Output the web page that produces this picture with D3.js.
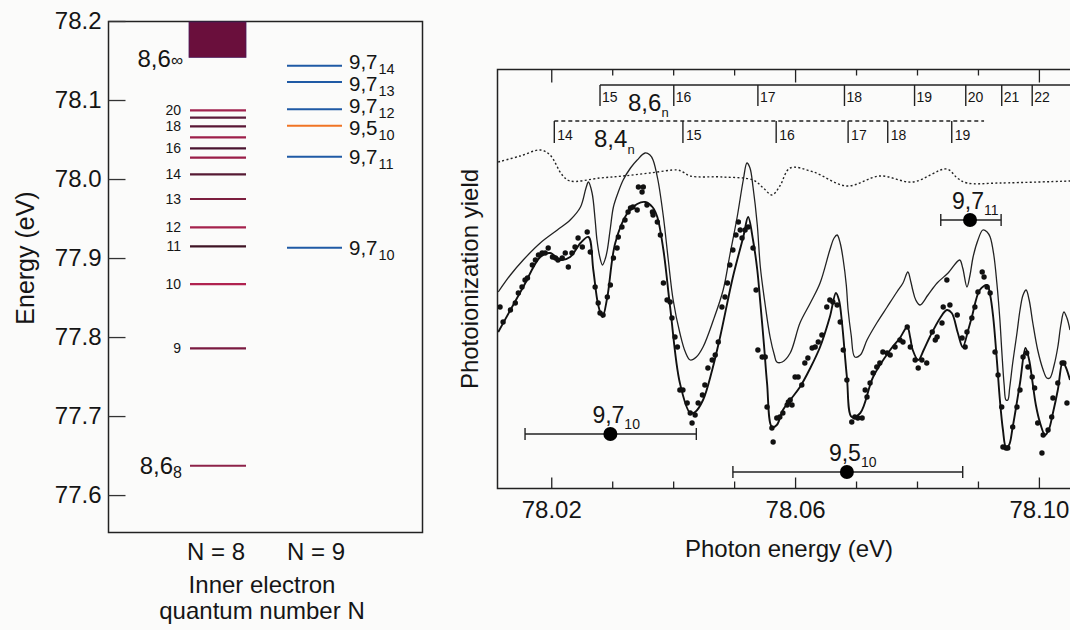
<!DOCTYPE html>
<html><head><meta charset="utf-8">
<script src="https://cdn.jsdelivr.net/npm/d3@7"></script>
<style>
body{margin:0;background:#fbfbfa;}
svg{display:block;font-family:"Liberation Sans",Arial,Helvetica,sans-serif;}
</style></head><body>
<svg id="chart" width="1070" height="630"></svg>
<script>
// ---------------- LEFT PANEL DATA (energy levels, eV) ----------------
const leftTicks = [77.6, 77.7, 77.8, 77.9, 78.0, 78.1, 78.2];
const n8Numbers = [8, 9, 10, 11, 12, 13, 14, 15, 16, 17, 18, 19, 20];
const n8Energies = [77.6371, 77.7857, 77.8671, 77.9148, 77.9389, 77.9747, 78.0059, 78.0270, 78.0389, 78.0528, 78.0667, 78.0776, 78.0870];
const n8LabelShown = [9, 10, 11, 12, 13, 14, 16, 18, 20];
const n8Limit = [78.154, 78.2];           // 8,6_inf series limit band
const n9Names = ["9,7", "9,7", "9,7", "9,5", "9,7", "9,7"];
const n9Subs = ["14", "13", "12", "10", "11", "10"];
const n9Energies = [78.1434, 78.1228, 78.0882, 78.0675, 78.0282, 77.9130];

// ---------------- RIGHT PANEL DATA ----------------
const majorTicks = [78.02, 78.06, 78.10];
const minorTicks = [78.03, 78.04, 78.05, 78.07, 78.08, 78.09];

const series86N = [15, 16, 17, 18, 19, 20, 21, 22];
const series86E = [78.0280, 78.0401, 78.0539, 78.0681, 78.0796, 78.0880, 78.0939, 78.0989];
const series84N = [14, 15, 16, 17, 18, 19];
const series84E = [78.0205, 78.0416, 78.0569, 78.0687, 78.0752, 78.0857];
const series84End = 78.0910;

// dotted curve
const dottedE = [78.0113,78.0149,78.0182,78.0198,78.0218,78.0231,78.0280,78.0318,78.0362,78.0407,78.0416,78.0428,78.0482,78.0531,78.0548,78.0562,78.0575,78.0592,78.0630,78.0685,78.0739,78.0793,78.0849,78.0866,78.0882,78.0936,78.1051];
const dottedY = [32.6,33.2,33.8,33.3,31.3,30.7,31.0,31.2,31.5,31.8,31.6,31.2,31.1,30.8,30.0,29.3,30.2,32.0,31.6,30.2,31.2,30.6,31.9,31.0,30.5,30.5,30.7];

// upper thin theory curve
const upperE = [78.0113,78.0133,78.0154,78.0182,78.0210,78.0231,78.0248,78.0257,78.0261,78.0267,
78.0272,78.0275,78.0280,78.0284,78.0289,78.0292,78.0297,78.0302,78.0310,78.0318,
78.0330,78.0341,78.0354,78.0362,78.0367,78.0375,78.0384,78.0392,78.0400,78.0411,
78.0420,78.0428,78.0438,78.0449,78.0466,78.0482,78.0493,78.0505,78.0515,78.0521,
78.0526,78.0531,78.0538,78.0543,78.0551,78.0559,78.0566,78.0570,78.0579,78.0592,
78.0608,78.0625,78.0641,78.0657,78.0664,78.0669,78.0674,78.0679,78.0684,78.0687,
78.0692,78.0698,78.0707,78.0718,78.0734,78.0751,78.0767,78.0777,78.0785,78.0790,
78.0793,78.0798,78.0805,78.0818,78.0833,78.0851,78.0870,78.0875,78.0882,78.0887,
78.0892,78.0900,78.0908,78.0915,78.0920,78.0926,78.0931,78.0936,78.0939,78.0943,
78.0946,78.0949,78.0952,78.0957,78.0964,78.0969,78.0974,78.0979,78.0984,78.0990,
78.0998,78.1007,78.1013,78.1018,78.1025,78.1031,78.1036,78.1041,78.1046,78.1051];
const upperY = [19.6,21.3,22.8,24.5,25.8,26.8,28.1,30.0,30.6,29.5,
26.8,24.8,23.0,22.3,23.0,23.8,26.0,28.1,29.6,30.8,
32.0,32.8,33.5,33.3,32.8,30.8,27.1,22.8,18.8,15.5,
13.6,12.8,13.1,14.1,16.8,19.8,23.3,27.1,30.8,32.5,
32.0,30.1,26.3,22.1,18.3,15.1,13.3,12.6,12.6,13.5,
16.5,18.5,20.5,23.8,25.0,25.3,24.5,22.8,20.3,17.8,
15.3,13.1,13.3,14.8,16.5,18.1,19.6,20.5,21.6,20.6,
19.8,18.8,18.3,19.3,20.5,21.5,22.8,22.0,20.1,21.3,
23.1,24.8,25.8,25.6,25.1,23.3,20.5,16.8,13.8,10.3,
8.8,8.8,10.0,12.5,15.5,17.8,19.3,19.8,18.8,16.5,
13.8,11.8,11.0,11.0,12.3,14.1,16.3,17.6,17.0,15.8];

// lower fit curve
const fitE = [78.0113,78.0133,78.0154,78.0182,78.0198,78.0215,78.0231,78.0248,78.0261,78.0269,
78.0277,78.0284,78.0292,78.0305,78.0325,78.0341,78.0354,78.0366,78.0374,78.0384,
78.0395,78.0411,78.0428,78.0436,78.0449,78.0464,78.0477,78.0498,78.0515,78.0523,
78.0531,78.0538,78.0543,78.0549,78.0554,78.0562,78.0570,78.0580,78.0592,78.0608,
78.0625,78.0641,78.0657,78.0667,78.0672,78.0677,78.0685,78.0693,78.0707,78.0728,
78.0756,78.0772,78.0784,78.0789,78.0793,78.0802,78.0811,78.0821,78.0838,78.0849,
78.0857,78.0867,78.0875,78.0884,78.0890,78.0903,78.0915,78.0920,78.0925,78.0931,
78.0936,78.0941,78.0946,78.0951,78.0957,78.0969,78.0978,78.0984,78.0989,78.0995,
78.1002,78.1010,78.1016,78.1023,78.1031,78.1039,78.1044,78.1051];
const fitY = [15.6,17.8,20.1,23.1,23.5,22.8,23.1,24.5,25.1,21.8,
18.3,17.1,19.1,24.5,27.5,28.4,28.6,28.1,27.1,23.8,
18.1,10.5,7.5,7.6,8.8,11.8,15.1,21.1,25.1,27.1,
24.8,21.8,18.5,14.3,10.5,6.1,6.3,7.8,8.8,10.1,
12.0,14.1,17.1,19.5,18.8,16.5,11.1,7.1,7.5,11.1,
13.8,15.0,16.1,15.0,13.8,12.8,13.8,15.1,17.0,17.8,
17.5,15.5,14.1,15.8,17.1,19.8,20.3,19.3,17.1,12.8,
8.8,5.8,4.1,4.3,6.1,10.5,14.0,12.8,10.8,8.3,
6.5,5.3,5.8,7.5,9.8,12.6,12.1,10.8];

// measured points
const dotE = [78.0116,78.0121,78.0133,78.0141,78.0146,78.0152,78.0157,78.0161,78.0169,78.0174,
78.0179,78.0185,78.0190,78.0195,78.0202,78.0207,78.0211,78.0218,78.0223,78.0228,
78.0234,78.0239,78.0244,78.0251,78.0259,78.0264,78.0272,78.0277,78.0280,78.0285,
78.0292,78.0297,78.0302,78.0308,78.0310,78.0316,78.0321,78.0326,78.0330,78.0334,
78.0341,78.0343,78.0349,78.0351,78.0357,78.0366,78.0367,78.0374,78.0379,78.0384,
78.0390,78.0395,78.0398,78.0403,78.0407,78.0411,78.0416,78.0423,78.0428,78.0431,
78.0436,78.0441,78.0448,78.0452,78.0457,78.0464,78.0469,78.0474,78.0480,78.0485,
78.0489,78.0493,78.0498,78.0503,78.0507,78.0510,78.0513,78.0518,78.0523,78.0531,
78.0536,78.0539,78.0546,78.0551,78.0554,78.0562,78.0564,78.0570,78.0575,78.0580,
78.0587,78.0592,
78.0589,78.0595,78.0600,78.0605,78.0611,78.0616,78.0621,78.0628,78.0633,78.0638,
78.0644,78.0652,78.0657,78.0662,78.0669,78.0674,78.0679,78.0685,78.0693,78.0698,
78.0703,78.0710,78.0715,78.0718,78.0723,78.0728,78.0734,78.0739,78.0744,78.0751,
78.0756,78.0764,78.0772,78.0777,78.0784,78.0789,78.0797,78.0802,78.0808,78.0816,
78.0825,78.0830,78.0833,78.0841,78.0843,78.0849,78.0854,78.0866,78.0874,78.0879,
78.0882,78.0890,78.0895,78.0900,78.0907,78.0910,78.0915,78.0920,78.0928,78.0933,
78.0939,78.0941,78.0946,78.0949,78.0957,78.0964,78.0969,78.0974,78.0980,78.0982,
78.0989,78.0993,78.0998,78.1005,78.1007,78.1015,78.1021,78.1023,78.1031,78.1038,
78.1041,78.1046];
const dotY = [18.1,16.6,17.8,18.5,19.5,20.1,20.8,21.0,22.3,22.8,
23.3,23.5,23.5,24.0,23.1,23.0,22.8,23.0,23.5,22.1,
23.5,24.1,25.0,24.1,25.6,23.6,20.1,18.5,17.5,17.3,
19.1,20.3,23.0,24.0,25.1,26.1,26.8,27.6,28.0,28.1,
27.8,30.1,29.6,30.1,28.3,27.6,27.3,26.6,25.3,20.5,
18.8,18.6,17.0,15.1,14.1,9.8,9.8,8.5,7.5,6.5,
7.3,8.5,9.3,10.3,12.0,12.8,13.3,14.6,18.1,19.1,
20.5,22.3,23.8,25.3,26.6,25.8,25.0,25.8,26.1,24.0,
19.8,13.8,13.1,13.1,8.1,6.0,4.6,7.0,7.1,7.5,
8.3,8.8,
8.6,8.3,11.1,11.1,10.3,12.5,13.0,14.0,14.1,14.6,
15.3,18.1,18.8,18.6,18.3,16.6,13.8,10.8,6.6,7.1,
7.0,7.0,9.8,9.1,10.5,11.5,12.1,12.5,13.6,13.5,
13.3,14.1,14.8,14.6,16.1,14.1,12.8,12.0,12.8,12.5,
15.6,14.8,15.1,16.5,18.1,20.8,18.3,17.3,15.0,14.1,
15.6,17.0,18.1,19.6,21.6,21.1,20.1,19.5,13.6,11.3,
8.1,4.1,4.0,4.0,6.1,8.1,9.8,13.1,13.5,12.1,
11.1,10.0,6.5,3.5,5.3,5.8,7.1,9.0,10.5,12.5,
12.5,8.5];

// resonance positions with widths
const errNames = ["9,7", "9,5", "9,7"];
const errSubs = ["10", "10", "11"];
const errCenter = [78.0297, 78.0685, 78.0887];
const errLow = [78.0157, 78.0498, 78.0839];
const errHigh = [78.0438, 78.0875, 78.0938];
const errYield = [5.4, 1.6, 26.8];

// ---------------- STYLES ----------------
const n8Colors = ["#8d2249","#7a1a40","#b0224f","#3f1424","#a5224d","#7c1e3e","#561a33","#9a1d47","#4b1530","#9e1f4a","#5a1635","#5c1a3a","#a2234f"];
const n9Colors = ["#1f5aa5","#1f5aa5","#1f5aa5","#f07424","#1f5aa5","#1f5aa5"];
const n9LabelNudge = [-3.5, 2.5, -3.5, 2.5, 0, 0];
const ink = "#151515";

const svg = d3.select("#chart");

// ================= LEFT PANEL =================
const yL = d3.scaleLinear().domain([77.552, 78.2]).range([533, 21]);
const gL = svg.append("g");

gL.append("rect").attr("x", 108.5).attr("y", 21.5).attr("width", 314).attr("height", 511)
  .attr("fill", "none").attr("stroke", "#222").attr("stroke-width", 1.5);

const axL = gL.append("g").attr("transform", "translate(108.5,0)")
  .call(d3.axisLeft(yL).tickValues(leftTicks).tickSizeInner(-17).tickSizeOuter(0).tickPadding(7).tickFormat(d3.format(".1f")));
axL.select(".domain").remove();
axL.selectAll(".tick line").attr("stroke", "#333").attr("stroke-width", 1.3);
axL.selectAll(".tick text").attr("font-size", 24).attr("fill", ink).style("font-family", "Liberation Sans, Arial, sans-serif");

// series limit band
gL.append("rect").attr("x", 189).attr("y", yL(n8Limit[1]) + 1).attr("width", 57)
  .attr("height", yL(n8Limit[0]) - yL(n8Limit[1]) - 1)
  .attr("fill", "#6a0f3c").attr("stroke", "#4a1a5a").attr("stroke-width", 0.8);

// N=8 levels
gL.selectAll("line.n8").data(n8Energies).join("line").attr("class", "n8")
  .attr("x1", 190).attr("x2", 246).attr("y1", d => yL(d)).attr("y2", d => yL(d))
  .attr("stroke", (d, i) => n8Colors[i]).attr("stroke-width", 2.2);

gL.selectAll("text.n8").data(n8Numbers.filter(n => n8LabelShown.includes(n))).join("text").attr("class", "n8")
  .attr("x", 181).attr("y", n => yL(n8Energies[n8Numbers.indexOf(n)])).attr("dy", "0.36em")
  .attr("text-anchor", "end").attr("font-size", 14).attr("fill", ink).text(n => n);

// 8,6_8 label
const t88 = gL.append("text").attr("x", 182).attr("y", yL(n8Energies[0]) + 8).attr("text-anchor", "end").attr("fill", ink);
t88.append("tspan").attr("font-size", 24).text("8,6");
t88.append("tspan").attr("font-size", 16).attr("dy", 4).text(n8Numbers[0]);

// 8,6_inf label
const t8i = gL.append("text").attr("x", 183).attr("y", yL(n8Limit[0]) + 10).attr("text-anchor", "end").attr("fill", ink);
t8i.append("tspan").attr("font-size", 24).text("8,6");
t8i.append("tspan").attr("font-size", 17).attr("dy", -1).text("\u221E");

// N=9 levels
gL.selectAll("line.n9").data(n9Energies).join("line").attr("class", "n9")
  .attr("x1", 287).attr("x2", 342).attr("y1", d => yL(d)).attr("y2", d => yL(d))
  .attr("stroke", (d, i) => n9Colors[i]).attr("stroke-width", 2);

n9Energies.forEach((e, i) => {
  const base = yL(e) + 7 + n9LabelNudge[i];
  const main = gL.append("text").attr("x", 349).attr("y", base).attr("font-size", 20.5).attr("fill", ink).text(n9Names[i]);
  const w = main.node().getComputedTextLength();
  gL.append("text").attr("x", 349 + w + 1).attr("y", base + 5).attr("font-size", 14.5).attr("fill", ink).text(n9Subs[i]);
});

gL.append("text").attr("x", 216).attr("y", 560).attr("text-anchor", "middle").attr("font-size", 24).attr("fill", ink).text("N = 8");
gL.append("text").attr("x", 316).attr("y", 560).attr("text-anchor", "middle").attr("font-size", 24).attr("fill", ink).text("N = 9");
gL.append("text").attr("x", 262).attr("y", 593).attr("text-anchor", "middle").attr("font-size", 24).attr("fill", ink).text("Inner electron");
gL.append("text").attr("x", 262).attr("y", 619).attr("text-anchor", "middle").attr("font-size", 24).attr("fill", ink).text("quantum number N");
gL.append("text").attr("transform", "translate(34,258) rotate(-90)").attr("text-anchor", "middle")
  .attr("font-size", 25).attr("fill", ink).text("Energy (eV)");

// ================= RIGHT PANEL =================
const xR = d3.scaleLinear().domain([78.0111, 78.1051]).range([497, 1070]);
const yR = d3.scaleLinear().domain([0, 41.9]).range([488, 69]);
const gR = svg.append("g");

gR.append("path").attr("d", "M1080,69.5 H497.5 V488.5 H1080")
  .attr("fill", "none").attr("stroke", "#222").attr("stroke-width", 1.5);

function styleAxis(sel) {
  sel.select(".domain").remove();
  sel.selectAll(".tick line").attr("stroke", "#222").attr("stroke-width", 1.3);
  sel.selectAll(".tick text").attr("font-size", 24).attr("fill", ink).style("font-family", "Liberation Sans, Arial, sans-serif");
}
gR.append("g").attr("transform", "translate(0,488.5)")
  .call(d3.axisBottom(xR).tickValues(majorTicks).tickSizeInner(-11).tickSizeOuter(0).tickPadding(12).tickFormat(d3.format(".2f"))).call(styleAxis);
gR.append("g").attr("transform", "translate(0,488.5)")
  .call(d3.axisBottom(xR).tickValues(minorTicks).tickSizeInner(-7).tickSizeOuter(0).tickFormat("")).call(styleAxis);
gR.append("g").attr("transform", "translate(0,69.5)")
  .call(d3.axisTop(xR).tickValues(majorTicks).tickSizeInner(-13).tickSizeOuter(0).tickFormat("")).call(styleAxis);
gR.append("g").attr("transform", "translate(0,69.5)")
  .call(d3.axisTop(xR).tickValues(minorTicks).tickSizeInner(-6).tickSizeOuter(0).tickFormat("")).call(styleAxis);

// series markers 8,6_n
gR.append("line").attr("x1", xR(series86E[0])).attr("x2", 1080).attr("y1", 85).attr("y2", 85)
  .attr("stroke", "#222").attr("stroke-width", 1.3);
gR.selectAll("line.s86").data(series86E).join("line").attr("class", "s86")
  .attr("x1", d => xR(d)).attr("x2", d => xR(d)).attr("y1", 85).attr("y2", 106)
  .attr("stroke", "#222").attr("stroke-width", 1.4);
gR.selectAll("text.s86").data(series86E).join("text").attr("class", "s86")
  .attr("x", d => xR(d) + 2).attr("y", 102).attr("font-size", 14).attr("fill", ink)
  .text((d, i) => series86N[i]);
const l86 = gR.append("text").attr("x", 628).attr("y", 111).attr("fill", ink);
l86.append("tspan").attr("font-size", 24).text("8,6");
l86.append("tspan").attr("font-size", 13).attr("dy", 6).text("n");

// series markers 8,4_n
gR.append("line").attr("x1", xR(series84E[0])).attr("x2", xR(series84End)).attr("y1", 121).attr("y2", 121)
  .attr("stroke", "#222").attr("stroke-width", 1.3).attr("stroke-dasharray", "4,3");
gR.selectAll("line.s84").data(series84E).join("line").attr("class", "s84")
  .attr("x1", d => xR(d)).attr("x2", d => xR(d)).attr("y1", 121).attr("y2", 143)
  .attr("stroke", "#222").attr("stroke-width", 1.4);
gR.selectAll("text.s84").data(series84E).join("text").attr("class", "s84")
  .attr("x", d => xR(d) + 3).attr("y", 140).attr("font-size", 14).attr("fill", ink)
  .text((d, i) => series84N[i]);
const l84 = gR.append("text").attr("x", 594).attr("y", 147).attr("fill", ink);
l84.append("tspan").attr("font-size", 24).text("8,4");
l84.append("tspan").attr("font-size", 13).attr("dy", 7).text("n");

// curves
svg.append("clipPath").attr("id", "plotclip").append("rect")
  .attr("x", 498).attr("y", 70).attr("width", 600).attr("height", 418);
const line = d3.line().curve(d3.curveCatmullRom.alpha(0.5)).x(d => xR(d[0])).y(d => yR(d[1]));
const plot = gR.append("g").attr("clip-path", "url(#plotclip)");

plot.append("path").datum(d3.zip(dottedE, dottedY)).attr("d", line)
  .attr("fill", "none").attr("stroke", "#222").attr("stroke-width", 1.4).attr("stroke-dasharray", "2,2.3");
plot.append("path").datum(d3.zip(upperE, upperY)).attr("d", line)
  .attr("fill", "none").attr("stroke", "#222").attr("stroke-width", 1.3);
plot.append("path").datum(d3.zip(fitE, fitY)).attr("d", line)
  .attr("fill", "none").attr("stroke", "#111").attr("stroke-width", 1.9);
plot.selectAll("circle.pt").data(d3.zip(dotE, dotY)).join("circle").attr("class", "pt")
  .attr("cx", d => xR(d[0])).attr("cy", d => yR(d[1])).attr("r", 2.7).attr("fill", "#111");

// resonance widths
errCenter.forEach((c, i) => {
  const y = yR(errYield[i]);
  const g = gR.append("g");
  g.append("line").attr("x1", xR(errLow[i])).attr("x2", xR(errHigh[i])).attr("y1", y).attr("y2", y)
    .attr("stroke", "#222").attr("stroke-width", 1.3);
  [errLow[i], errHigh[i]].forEach(e => {
    g.append("line").attr("x1", xR(e)).attr("x2", xR(e)).attr("y1", y - 6).attr("y2", y + 6)
      .attr("stroke", "#222").attr("stroke-width", 1.4);
  });
  g.append("circle").attr("cx", xR(c)).attr("cy", y).attr("r", 7).attr("fill", "#000");
  const t = g.append("text").attr("x", xR(c) - 18).attr("y", y - 11).attr("fill", ink);
  t.append("tspan").attr("font-size", 23).text(errNames[i]);
  t.append("tspan").attr("font-size", 14).attr("dy", 6).text(errSubs[i]);
});

gR.append("text").attr("transform", "translate(478,279) rotate(-90)").attr("text-anchor", "middle")
  .attr("font-size", 24).attr("fill", ink).text("Photoionization yield");
gR.append("text").attr("x", 789).attr("y", 557).attr("text-anchor", "middle")
  .attr("font-size", 24).attr("fill", ink).text("Photon energy (eV)");
</script></body></html>
